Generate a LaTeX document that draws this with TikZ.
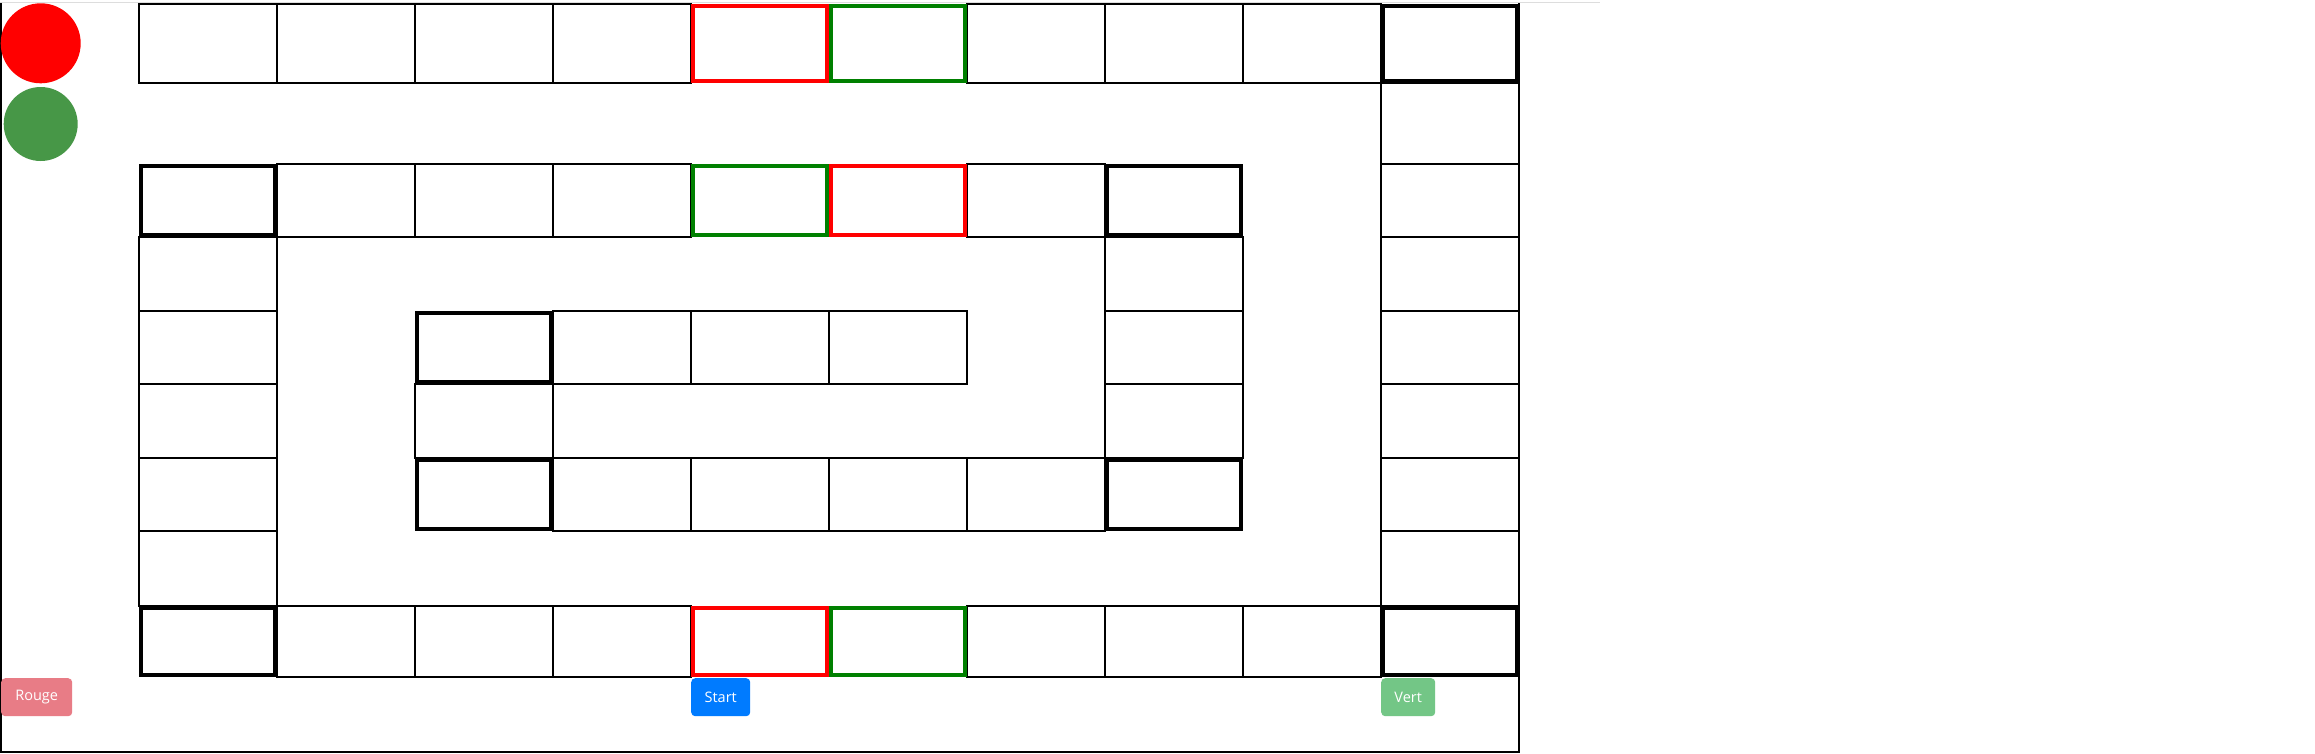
\documentclass[tikz,border=0pt]{standalone}
\usepackage{fontspec}
\setmainfont{Open Sans}
\definecolor{cred}{HTML}{FF0000}
\definecolor{cgreen}{HTML}{008000}
\definecolor{tokgreen}{RGB}{71,151,71}
\definecolor{btnred}{HTML}{E87C86}
\definecolor{btnblue}{HTML}{007BFF}
\definecolor{btngreen}{HTML}{73C686}
\definecolor{topline}{HTML}{DDDDDD}
\newcommand\boardcell[4]{% col,row,style,inset
  \pgfmathsetmacro\xa{139+138*#1+#4}%
  \pgfmathsetmacro\xb{139+138*#1+138-#4}%
  \pgfmathsetmacro\ya{{4,83,164,237,311,384,458,531,606,677}[#2]+#4}%
  \pgfmathsetmacro\yb{{4,83,164,237,311,384,458,531,606,677}[#2+1]-#4}%
  \draw[#3] (\xa,\ya) rectangle (\xb,\yb);}
\begin{document}
\begin{tikzpicture}[x=1pt,y=-1pt,
  cellbox/.style={draw=black,line width=1.2pt},
  cornerbox/.style={draw=black,line width=4pt},
  redbox/.style={draw=cred,line width=4pt},
  greenbox/.style={draw=cgreen,line width=4pt},
  btn/.style={rounded corners=4pt,inner sep=0pt,text=white,anchor=north west,
    font=\fontsize{14.5}{17}\selectfont},
  token/.style={circle,inner sep=0pt}]
\useasboundingbox (0,0) rectangle (2315,753);
\fill[white] (0,0) rectangle (2315,753);
% frame
\draw[topline,line width=1.2pt] (0,2.5) -- (1600,2.5);
\draw[black,line width=1.2pt] (1,3) -- (1,752) -- (1519,752) -- (1519,3);
% normal cells
\foreach \c in {0,1,2,3,6,7,8} {\boardcell{\c}{0}{cellbox}{0}}
\foreach \r in {1,2,3,4,5,6,7} {\boardcell{9}{\r}{cellbox}{0}}
\foreach \c in {1,2,3,6} {\boardcell{\c}{2}{cellbox}{0}}
\foreach \r in {3,4,5,6,7} {\boardcell{0}{\r}{cellbox}{0}}
\foreach \r in {3,4,5} {\boardcell{7}{\r}{cellbox}{0}}
\foreach \c in {3,4,5} {\boardcell{\c}{4}{cellbox}{0}}
\boardcell{2}{5}{cellbox}{0}
\foreach \c in {3,4,5,6} {\boardcell{\c}{6}{cellbox}{0}}
\foreach \c in {1,2,3,6,7,8} {\boardcell{\c}{8}{cellbox}{0}}
% corner cells
\boardcell{9}{0}{cornerbox}{2}
\boardcell{0}{2}{cornerbox}{2}
\boardcell{7}{2}{cornerbox}{2}
\boardcell{2}{4}{cornerbox}{2}
\boardcell{2}{6}{cornerbox}{2}
\boardcell{7}{6}{cornerbox}{2}
\boardcell{0}{8}{cornerbox}{2}
\boardcell{9}{8}{cornerbox}{2}
% coloured cells
\boardcell{4}{0}{redbox}{2}
\boardcell{5}{0}{greenbox}{2}
\boardcell{4}{2}{greenbox}{2}
\boardcell{5}{2}{redbox}{2}
\boardcell{4}{8}{redbox}{2}
\boardcell{5}{8}{greenbox}{2}
% tokens
\node[token,fill=cred,minimum size=80pt] (redtoken) at (40.7,43.3) {};
\node[token,fill=tokgreen,minimum size=74pt] (greentoken) at (40.7,124) {};
% buttons
\node[btn,fill=btnred,minimum width=71pt,minimum height=38pt] (rouge) at (1,678) {Rouge};
\node[btn,fill=btnblue,minimum width=59pt,minimum height=38pt] (start) at (691,678) {Start};
\node[btn,fill=btngreen,minimum width=54pt,minimum height=38pt] (vert) at (1381,678) {Vert};
\end{tikzpicture}
\end{document}
